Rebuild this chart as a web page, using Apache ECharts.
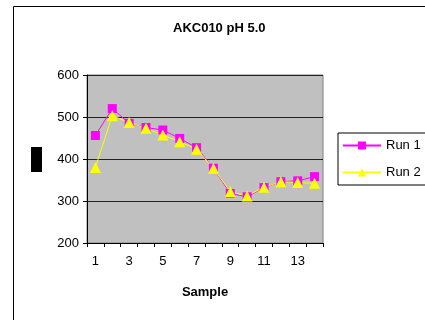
<!DOCTYPE html>
<html>
<head>
<meta charset="utf-8">
<script src="https://cdn.jsdelivr.net/npm/echarts@6/dist/echarts.min.js"></script>
<style>
  html, body { margin: 0; padding: 0; background: #fff; overflow: hidden; }
  #chart { width: 425px; height: 320px; }
</style>
</head>
<body>
<div id="chart"></div>
<script>
  var samples = ['1', '2', '3', '4', '5', '6', '7', '8', '9', '10', '11', '12', '13', '14'];
  var run1 = [456, 520, 485, 475, 469, 449, 427, 378, 318, 310, 332, 346, 348, 358];
  var run2 = [380, 503, 487, 473, 457, 441, 423, 378, 322, 312, 333, 346, 344, 342];
  var yTicks = {min: 200, max: 600, step: 100};

  var font = 'Liberation Sans, Arial, sans-serif';

  var option = {
    animation: false,
    backgroundColor: '#fff',
    textStyle: {fontFamily: font},
    title: {
      text: 'AKC010 pH 5.0',
      left: 168,
      top: 17,
      textStyle: {fontSize: 13, fontWeight: 'bold', color: '#000', fontFamily: font}
    },
    graphic: [
      // outer chart frame, only left and top edges are in view
      {type: 'polyline', shape: {points: [[13.5, 330], [13.5, 6.5], [440, 6.5]]},
        style: {fill: null, stroke: '#000', lineWidth: 1}, z: -1},
      // y axis title block
      {type: 'rect', shape: {x: 31, y: 147, width: 11, height: 25},
        style: {fill: '#000'}}
    ],
    legend: {
      orient: 'vertical',
      left: 338,
      top: 133,
      padding: [6, 30, 6, 4],
      itemWidth: 38,
      itemHeight: 10,
      itemGap: 14,
      borderColor: '#000',
      borderWidth: 1,
      textStyle: {fontSize: 13, color: '#000', fontFamily: font},
      data: ['Run 1', 'Run 2']
    },
    grid: {
      left: 87, right: 102, top: 75, bottom: 77,
      show: true,
      backgroundColor: '#C0C0C0',
      borderColor: '#808080',
      borderWidth: 1
    },
    xAxis: {
      type: 'category',
      data: samples,
      boundaryGap: true,
      name: 'Sample',
      nameLocation: 'middle',
      nameGap: 43,
      nameTextStyle: {fontSize: 13, fontWeight: 'bold', color: '#000', fontFamily: font},
      axisLine: {lineStyle: {color: '#000', width: 1}},
      axisTick: {show: true, interval: 0, length: 4, lineStyle: {color: '#000'}},
      axisLabel: {interval: 1, fontSize: 13, color: '#000', margin: 12, fontFamily: font},
      splitLine: {show: false}
    },
    yAxis: {
      type: 'value',
      min: yTicks.min,
      max: yTicks.max,
      interval: yTicks.step,
      axisLine: {show: true, lineStyle: {color: '#000', width: 1}},
      axisTick: {show: true, length: 4, lineStyle: {color: '#000'}},
      axisLabel: {fontSize: 13, color: '#000', margin: 8, fontFamily: font},
      splitLine: {show: true, lineStyle: {color: '#222', width: 1}}
    },
    series: [
      {
        name: 'Run 1',
        type: 'line',
        data: run1,
        symbol: 'rect',
        symbolSize: 9,
        itemStyle: {color: '#FF00FF'},
        lineStyle: {color: '#FF00FF', width: 1}
      },
      {
        name: 'Run 2',
        type: 'line',
        data: run2,
        symbol: 'triangle',
        symbolSize: 11,
        itemStyle: {color: '#FFFF00'},
        lineStyle: {color: '#FFFF00', width: 1}
      }
    ]
  };

  echarts.init(document.getElementById('chart')).setOption(option);
</script>
</body>
</html>
